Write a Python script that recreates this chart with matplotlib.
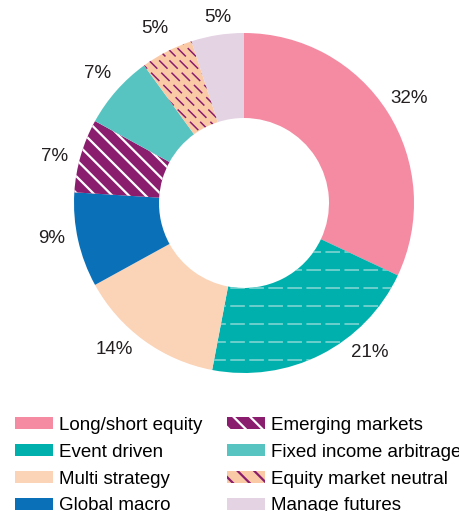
import numpy as np
import matplotlib
matplotlib.use('Agg')
import matplotlib.pyplot as plt
from matplotlib.patches import Patch

# hedge fund strategy shares (%)
strategies = ['Long/short equity', 'Event driven', 'Multi strategy', 'Global macro',
              'Emerging markets', 'Fixed income arbitrage', 'Equity market neutral', 'Manage futures']
shares = [32, 21, 14, 9, 7, 7, 5, 5]
colors = ['#f48ba3', '#00b0ad', '#fbd3b7', '#0a70b8', '#8a1d6e', '#58c4c2', '#facaa6', '#e4d3e3']

plt.rcParams['font.family'] = ['Liberation Sans', 'DejaVu Sans']
plt.rcParams['hatch.linewidth'] = 1.6

fig = plt.figure(figsize=(4.6, 5.11), dpi=100)
ax = fig.add_axes([0, 121 / 511, 1, 390 / 511])

wedges, texts = ax.pie(shares, colors=colors, startangle=90, counterclock=False,
                       labels=[f'{s}%' for s in shares], labeldistance=1.15,
                       wedgeprops=dict(width=0.5, linewidth=0),
                       textprops=dict(fontsize=13.5, color='#231f20'))

# the original nudges some labels off the wedge middle (degrees clockwise)
nudge = {1: -13, 2: 5.5, 3: 2, 4: -2.4, 7: 1}
for i, t in enumerate(texts):
    t.set_ha('center')
    if i in nudge:
        x, y = t.get_position()
        r = 1.15 if i != 7 else 1.1
        ang = np.arctan2(y, x) - np.deg2rad(nudge[i])
        t.set_position((r * np.cos(ang), r * np.sin(ang)))

ax.set_xlim(-244 / 170, 216 / 170)
ax.set_ylim(-187 / 170, 203 / 170)
ax.axis('off')

# white diagonal hatch on emerging markets
wedges[4].set_hatch('\\\\')
wedges[4].set_edgecolor('white')


def dashed_fill(wedge, xs, ys, color, dashes, lw):
    for x, y in zip(xs, ys):
        ln, = ax.plot(x, y, color=color, lw=lw, ls=(0, dashes), solid_capstyle='butt')
        ln.set_clip_path(wedge)


# event driven: light dashed horizontal lines
lw = 1.1
ys_h = np.arange(-0.29, -1.05, -0.106)
dashed_fill(wedges[1], [[-1.2, 1.2]] * len(ys_h), [[y, y] for y in ys_h],
            '#8ad8d5', (10.5 / lw, 3.2 / lw), lw)

# equity market neutral: purple dashed diagonals
cs = np.arange(-0.2, 1.2, 0.06)
dashed_fill(wedges[6], [[-1.2, 0.3]] * len(cs), [[c + 1.2, c - 0.3] for c in cs],
            '#8a1d6e', (8.5 / lw, 4.0 / lw), lw)

handles = [Patch(facecolor=c, linewidth=0) for c in colors]
handles[1] = Patch(facecolor=colors[1], edgecolor='#8ad8d5', hatch='-', linewidth=0)
handles[4] = Patch(facecolor=colors[4], edgecolor='white', hatch='\\\\', linewidth=0)
handles[6] = Patch(facecolor=colors[6], edgecolor='#8a1d6e', hatch='\\\\', linewidth=0)

fig.legend(handles, strategies, ncol=2, loc='upper left',
           bbox_to_anchor=(15 / 460, 1 - 417 / 511), frameon=False,
           prop=dict(size=13.5), handlelength=2.05, handleheight=0.6,
           handletextpad=0.3, columnspacing=1.3, labelspacing=0.52,
           borderpad=0, borderaxespad=0)

fig.savefig('out.png', dpi=100)
